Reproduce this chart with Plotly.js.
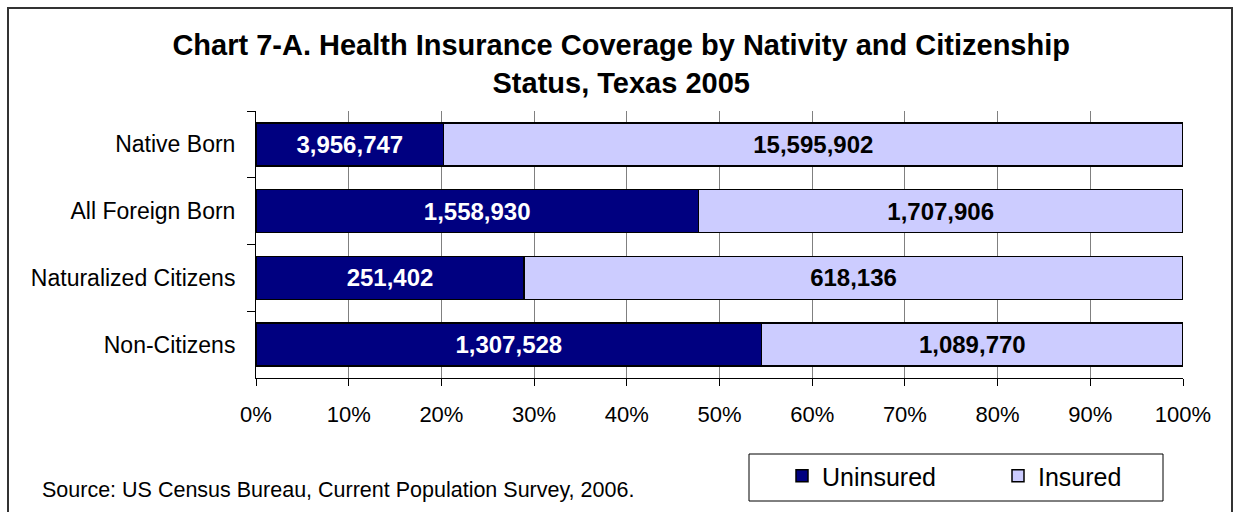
<!DOCTYPE html>
<html>
<head>
<meta charset="utf-8">
<script src="https://cdn.plot.ly/plotly-3.0.1.min.js"></script>
<style>
html,body{margin:0;padding:0;background:#fff;}
#chart{width:1235px;height:512px;}
</style>
</head>
<body>
<div id="chart"></div>
<script>
const categories = ["Native Born", "All Foreign Born", "Naturalized Citizens", "Non-Citizens"];
const uninsured = [3956747, 1558930, 251402, 1307528];
const insured = [15595902, 1707906, 618136, 1089770];
const seriesNames = ["Uninsured", "Insured"];
const xTickVals = [0, 10, 20, 30, 40, 50, 60, 70, 80, 90, 100];

const FONT = "Arial, 'Liberation Sans', sans-serif";
const fmt = v => v.toLocaleString("en-US");

// plot area in pixels (used only to convert paper coords for decorations)
const PL = 256, PR = 1183, PT = 111, PB = 378;
const px2x = p => (p - PL) / (PR - PL);
const px2y = p => (PB - p) / (PB - PT);

const traces = [
  {
    type: "bar", orientation: "h", name: seriesNames[0],
    y: categories, x: uninsured,
    text: uninsured.map(fmt), textposition: "inside", insidetextanchor: "middle",
    constraintext: "none",
    textfont: {family: FONT, size: 24, color: "#ffffff", weight: "bold"},
    marker: {color: "#000080", line: {color: "#000000", width: 1.5}},
    hoverinfo: "skip"
  },
  {
    type: "bar", orientation: "h", name: seriesNames[1],
    y: categories, x: insured,
    text: insured.map(fmt), textposition: "inside", insidetextanchor: "middle",
    constraintext: "none",
    textfont: {family: FONT, size: 24, color: "#000000", weight: "bold"},
    marker: {color: "#CCCCFF", line: {color: "#000000", width: 1.5}},
    hoverinfo: "skip"
  }
];

const layout = {
  width: 1235, height: 512,
  margin: {l: PL, r: 1235 - PR, t: PT, b: 512 - PB},
  paper_bgcolor: "#ffffff", plot_bgcolor: "#ffffff",
  font: {family: FONT, color: "#000000"},
  barmode: "stack", barnorm: "percent", bargap: 0.355,
  showlegend: true,
  title: {
    text: "Chart 7-A. Health Insurance Coverage by Nativity and Citizenship<br>Status, Texas 2005",
    font: {family: FONT, size: 29, weight: "bold", color: "#000000"},
    x: 0.503, xanchor: "center", xref: "container",
    y: 1 - 55 / 512, yanchor: "middle", yref: "container"
  },
  xaxis: {
    range: [0, 100], tickmode: "array", tickvals: xTickVals,
    ticktext: xTickVals.map(v => v + "%"),
    showgrid: true, gridcolor: "#808080", gridwidth: 1,
    zeroline: false, showline: true, linecolor: "#000000", linewidth: 1,
    ticks: "outside", ticklen: 7, tickcolor: "#000000",
    ticklabelstandoff: 10,
    tickfont: {family: FONT, size: 22, color: "#000000"},
    automargin: false, fixedrange: true
  },
  yaxis: {
    type: "category", autorange: "reversed",
    showgrid: false, zeroline: false,
    showline: true, linecolor: "#000000", linewidth: 1,
    ticks: "outside", tickson: "boundaries", ticklen: 8, tickcolor: "#000000",
    ticklabelstandoff: 15,
    tickfont: {family: FONT, size: 23, color: "#000000"},
    automargin: false, fixedrange: true
  },
  legend: {
    orientation: "h",
    x: px2x(782), xanchor: "left", xref: "paper",
    y: px2y(453), yanchor: "top", yref: "paper",
    bgcolor: "rgba(0,0,0,0)", borderwidth: 0,
    font: {family: FONT, size: 25, color: "#000000"},
    entrywidth: 171, entrywidthmode: "pixels",
    traceorder: "normal"
  },
  annotations: [
    {
      text: "Source: US Census Bureau, Current Population Survey, 2006.",
      xref: "paper", yref: "paper",
      x: px2x(40), xanchor: "left",
      y: px2y(490), yanchor: "middle",
      showarrow: false,
      font: {family: FONT, size: 21.5, color: "#000000"}
    }
  ],
  shapes: [
    {
      type: "rect", xref: "paper", yref: "paper",
      x0: px2x(8), x1: px2x(1232), y0: px2y(530), y1: px2y(8),
      line: {color: "#333333", width: 2}, fillcolor: "rgba(0,0,0,0)"
    },
    {
      type: "rect", xref: "paper", yref: "paper",
      x0: px2x(749), x1: px2x(1163), y0: px2y(501), y1: px2y(454),
      line: {color: "#000000", width: 1}, fillcolor: "rgba(0,0,0,0)"
    }
  ]
};

Plotly.newPlot("chart", traces, layout, {displayModeBar: false, staticPlot: true});
</script>
</body>
</html>
